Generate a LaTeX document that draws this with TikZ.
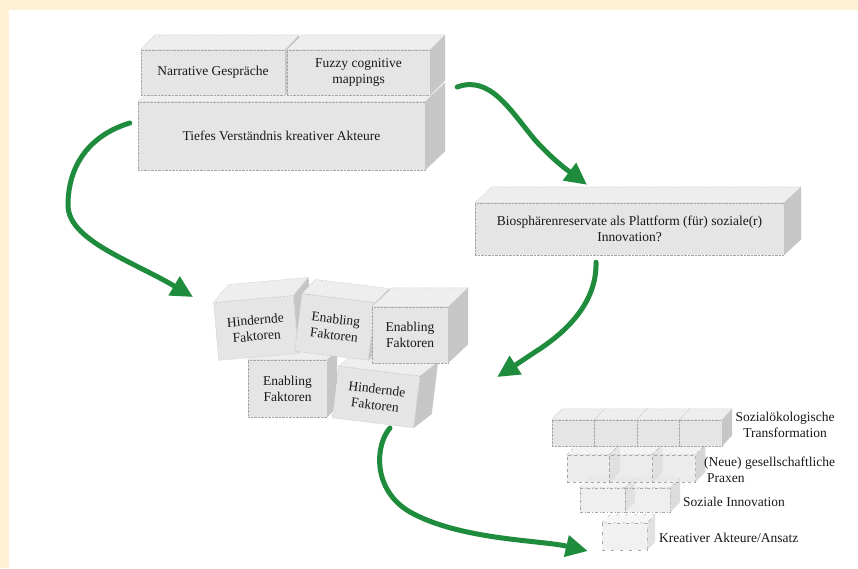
\documentclass[tikz,border=0pt]{standalone}
\usepackage{fontspec}
\setmainfont{Liberation Serif}
\usetikzlibrary{calc, arrows.meta}

\definecolor{bgyellow}{HTML}{FFF2D4}
\definecolor{flowgreen}{HTML}{1E8C3C}
\definecolor{facefront}{HTML}{E5E5E5}
\definecolor{facetop}{HTML}{EEEEEE}
\definecolor{faceside}{HTML}{C6C6C6}

% top and side face of a box node: [options]{node}{depth}
\newcommand{\cubefaces}[3][]{%
  \filldraw[draw=gray!70, densely dotted, fill=facetop, #1] (#2.north west) -- ($(#2.north west)+(#3)$) -- ($(#2.north east)+(#3)$) -- (#2.north east) -- cycle;
  \fill[faceside, #1] (#2.north east) -- ($(#2.north east)+(#3)$) -- ($(#2.south east)+(#3)$) -- (#2.south east) -- cycle;
}

\tikzset{
  cube/.style={draw=gray!70, densely dotted, fill=facefront, inner sep=2pt, align=center,
    text=black!90, font=\fontsize{13.5}{16}\selectfont},
  rowlabel/.style={text=black!90, font=\fontsize{13.5}{16}\selectfont, inner sep=0pt},
  flow/.style={draw=flowgreen, line width=5pt, line cap=round,
    -{Triangle[length=22pt, width=21pt]}}
}

\begin{document}
\begin{tikzpicture}[x=1pt, y=-1pt]
    % Background
    \useasboundingbox (0,0) rectangle (858,568);
    \fill[bgyellow] (0,0) rectangle (858,568);
    \fill[white] (9,10) rectangle (858,568);

    % Top block
    \node[cube, minimum width=287, minimum height=68] (tiefes) at (281.5,136) {Tiefes Verständnis kreativer Akteure};
    \cubefaces{tiefes}{20,-19}
    \node[cube, minimum width=144, minimum height=45] (narr) at (213,72.5) {Narrative Gespräche};
    \cubefaces{narr}{14,-15}
    \node[cube, minimum width=143, minimum height=45] (fuzzy) at (358.5,72.5) {Fuzzy cognitive\\mappings};
    \cubefaces{fuzzy}{15,-15}

    % Biosphere reserve
    \node[cube, minimum width=309, minimum height=52] (bio) at (629.5,229) {Biosphärenreservate als Plattform (für) soziale(r)\\Innovation?};
    \cubefaces{bio}{17,-16}

    % Factors (lower row first)
    \node[cube, minimum width=79, minimum height=57] (enab3) at (287.5,388.5) {Enabling\\Faktoren};
    \cubefaces{enab3}{10,-10}
    \node[cube, minimum width=82, minimum height=52, rotate=-7] (hind2) at (376,397) {Hindernde\\Faktoren};
    \cubefaces{hind2}{18,-14}
    \node[cube, minimum width=80, minimum height=58, rotate=5] (hind1) at (256,328) {Hindernde\\Faktoren};
    \cubefaces{hind1}{15,-18}
    \node[cube, minimum width=74, minimum height=58, rotate=-7] (enab1) at (335,327) {Enabling\\Faktoren};
    \cubefaces{enab1}{14,-14}
    \node[cube, minimum width=76, minimum height=56] (enab2) at (410,335) {Enabling\\Faktoren};
    \cubefaces{enab2}{20,-19}

    % Stack: Kreativer Akteure/Ansatz
    \node[cube, loosely dashed, fill opacity=.5, minimum width=45, minimum height=27] (akteur) at (624.5,536.5) {};
    \cubefaces[loosely dashed, fill opacity=.5]{akteur}{8,-8}

    % Stack: Soziale Innovation
    \node[cube, dash dot, fill opacity=.6, minimum width=45, minimum height=24] (innoA) at (602.5,500) {};
    \cubefaces[dash dot, fill opacity=.6]{innoA}{10,-10}
    \node[cube, dash dot, fill opacity=.6, minimum width=45, minimum height=24] (innoB) at (647.5,500) {};
    \cubefaces[dash dot, fill opacity=.6]{innoB}{10,-10}

    % Stack: Praxen
    \node[cube, dashed, fill opacity=.7, minimum width=42.7, minimum height=27] (praxA) at (588.3,468.5) {};
    \cubefaces[dashed, fill opacity=.7]{praxA}{10,-10}
    \node[cube, dashed, fill opacity=.7, minimum width=42.7, minimum height=27] (praxB) at (631,468.5) {};
    \cubefaces[dashed, fill opacity=.7]{praxB}{10,-10}
    \node[cube, dashed, fill opacity=.7, minimum width=42.7, minimum height=27] (praxC) at (673.7,468.5) {};
    \cubefaces[dashed, fill opacity=.7]{praxC}{10,-10}

    % Stack: Transformation
    \node[cube, minimum width=42.5, minimum height=26] (sozA) at (573.25,433) {};
    \cubefaces{sozA}{10,-11}
    \node[cube, minimum width=42.5, minimum height=26] (sozB) at (615.75,433) {};
    \cubefaces{sozB}{10,-11}
    \node[cube, minimum width=42.5, minimum height=26] (sozC) at (658.25,433) {};
    \cubefaces{sozC}{10,-11}
    \node[cube, minimum width=42.5, minimum height=26] (sozD) at (700.75,433) {};
    \cubefaces{sozD}{10,-11}

    % Stack labels
    \node[rowlabel, align=center] (lsoz) at (785,425) {Sozialökologische\\Transformation};
    \node[rowlabel, align=left, anchor=west] (lprax) at (704,470) {(Neue) gesellschaftliche\\\hspace{3pt}Praxen};
    \node[rowlabel, anchor=west] (linno) at (683,502) {Soziale Innovation};
    \node[rowlabel, anchor=west] (lakt) at (659,538) {Kreativer Akteure/Ansatz};

    % Arrows
    \coordinate (a1) at ($(tiefes.west)+(-8,-13)$);
    \coordinate (b1) at ($(hind1.center)+(-63,-31)$);
    \coordinate (a2) at ($(fuzzy.east)+(27,14.5)$);
    \coordinate (b2) at ($(bio.north)+(-42.5,-18)$);
    \coordinate (a3) at ($(bio.south)+(-33.5,7)$);
    \coordinate (b3) at ($(enab2.east)+(49,42)$);
    \coordinate (a4) at ($(hind2.center)+(14,31)$);
    \coordinate (b4) at ($(akteur.west)+(-14,14.5)$);

    \draw[flow] (a1) .. controls (90,135) and (68,165) .. (68,205) .. controls (68,240) and (130,260) .. (b1);
    \draw[flow] (a2) .. controls (490,75) and (510,110) .. (535,140) .. controls (555,162) and (570,172) .. (b2);
    \draw[flow] (a3) .. controls (597,300) and (570,330) .. (535,352) .. controls (520,362) and (508,370) .. (b3);
    \draw[flow] (a4) .. controls (375,445) and (372,490) .. (410,512) .. controls (460,540) and (540,540) .. (b4);

\end{tikzpicture}
\end{document}
